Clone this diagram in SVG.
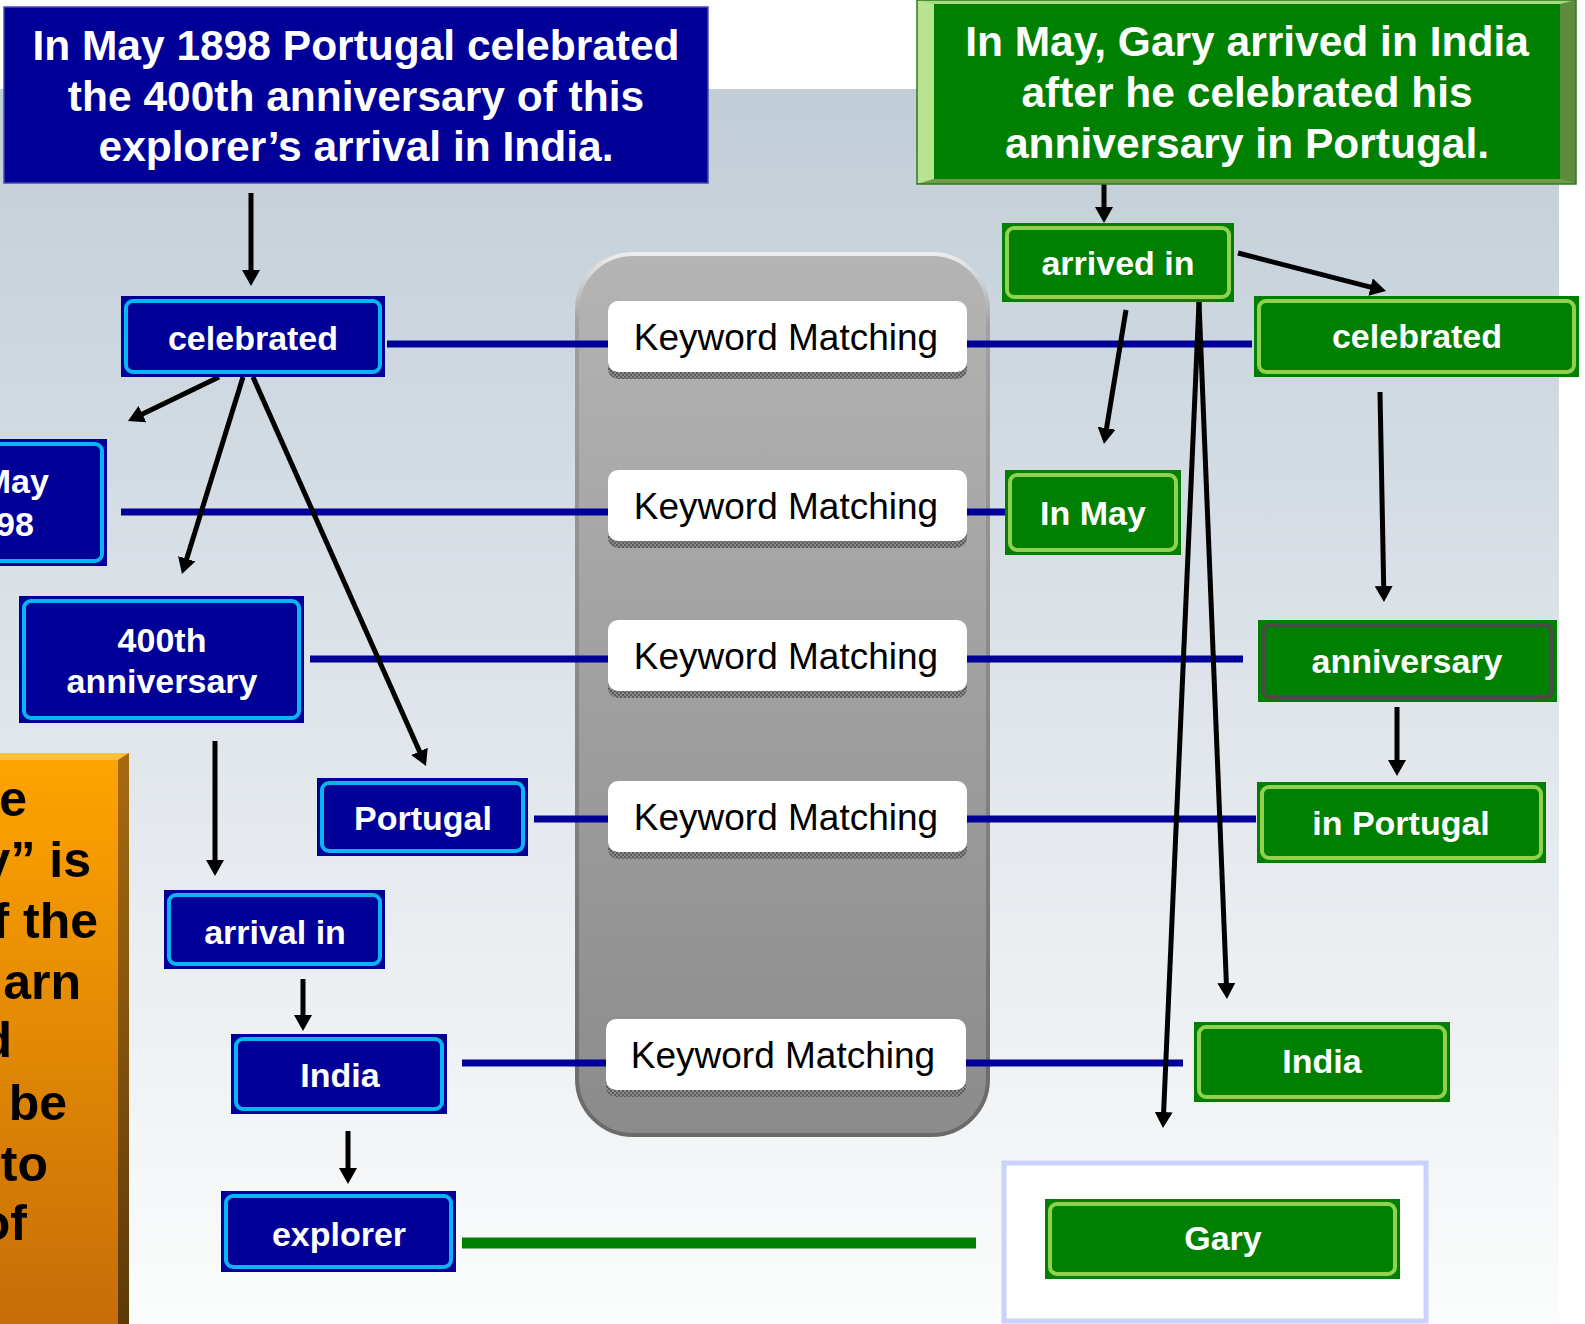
<svg xmlns="http://www.w3.org/2000/svg" width="1585" height="1324" viewBox="0 0 1585 1324">
<defs>
<linearGradient id="bg" x1="0" y1="0" x2="0" y2="1"><stop offset="0" stop-color="#c1cdd7"/><stop offset="0.55" stop-color="#e2e7ec"/><stop offset="1" stop-color="#fbfcfc"/></linearGradient>
<linearGradient id="cap" x1="0" y1="0" x2="0" y2="1"><stop offset="0" stop-color="#b4b4b4"/><stop offset="1" stop-color="#8b8b8b"/></linearGradient>
<linearGradient id="capS" x1="0" y1="0" x2="0" y2="1"><stop offset="0" stop-color="#ececec"/><stop offset="0.08" stop-color="#a0a0a0"/><stop offset="1" stop-color="#6a6a6a"/></linearGradient>
<linearGradient id="org" x1="0" y1="0" x2="0" y2="1"><stop offset="0" stop-color="#ffa400"/><stop offset="1" stop-color="#c66d08"/></linearGradient>
<linearGradient id="orgR" x1="0" y1="0" x2="0" y2="1"><stop offset="0" stop-color="#a86a10"/><stop offset="1" stop-color="#5c3a08"/></linearGradient>
<pattern id="stip" width="4" height="4" patternUnits="userSpaceOnUse"><rect width="4" height="4" fill="#8a8a8a"/><rect width="2" height="2" fill="#5c5c5c"/><rect x="2" y="2" width="2" height="2" fill="#5c5c5c"/></pattern>
<marker id="ah" viewBox="0 0 16 18" refX="1" refY="9" markerWidth="16" markerHeight="18" markerUnits="userSpaceOnUse" orient="auto"><path d="M0,0 L16,9 L0,18 z" fill="#000"/></marker>
<style>
.bn{fill:#000099}
.bi{fill:none;stroke:#0ab4f0;stroke-width:4}
.gn{fill:#008000}
.gi{fill:none;stroke:#92d050;stroke-width:4}
.t{font-family:"Liberation Sans",Arial,sans-serif;font-weight:bold;fill:#fff;text-anchor:middle}
.t34{font-size:34px}
.t42{font-size:42.5px}
.kw{font-family:"Liberation Sans",Arial,sans-serif;font-size:37px;fill:#000;text-anchor:middle}
.ot{font-family:"Liberation Sans",Arial,sans-serif;font-weight:bold;font-size:50px;fill:#000;text-anchor:end}
.bl{stroke:#000099;stroke-width:7;fill:none}
.ar{stroke:#000;stroke-width:5;fill:none;marker-end:url(#ah)}
.kb{fill:#fff}
.ks{fill:url(#stip)}
</style>
</defs>
<rect x="0" y="0" width="1585" height="1324" fill="#fff"/>
<rect x="0" y="89" width="1559" height="1235" fill="url(#bg)"/>

<g id="orange-note">
<rect x="0" y="753" width="129" height="571" fill="url(#org)"/>
<polygon points="0,753 129,753 118,760 0,760" fill="#ffc13a"/>
<polygon points="118,760 129,753 129,1324 118,1324" fill="url(#orgR)"/>
<text class="ot" x="27" y="816">e</text>
<text class="ot" x="91" y="877">y” is</text>
<text class="ot" x="98" y="938">f the</text>
<text class="ot" x="81" y="999">arn</text>
<text class="ot" x="12" y="1057">d</text>
<text class="ot" x="67" y="1120">be</text>
<text class="ot" x="48" y="1181">to</text>
<text class="ot" x="27" y="1240">of</text>
</g>

<g id="matcher">
<rect x="577" y="254" width="411" height="881" rx="56" fill="url(#cap)" stroke="url(#capS)" stroke-width="4"/>
</g>

<g id="connectors">
<line class="bl" x1="387" y1="344" x2="610" y2="344"/>
<line class="bl" x1="965" y1="344" x2="1252" y2="344"/>
<line class="bl" x1="121" y1="512" x2="610" y2="512"/>
<line class="bl" x1="965" y1="512" x2="1008" y2="512"/>
<line class="bl" x1="310" y1="659" x2="610" y2="659"/>
<line class="bl" x1="965" y1="659" x2="1243" y2="659"/>
<line class="bl" x1="534" y1="819" x2="610" y2="819"/>
<line class="bl" x1="965" y1="819" x2="1256" y2="819"/>
<line class="bl" x1="462" y1="1063" x2="608" y2="1063"/>
<line class="bl" x1="964" y1="1063" x2="1183" y2="1063"/>
<line x1="462" y1="1243" x2="976" y2="1243" stroke="#008000" stroke-width="11"/>
<line class="ar" x1="251" y1="193" x2="251" y2="271"/>
<line class="ar" x1="219" y1="377" x2="141.5" y2="414.5"/>
<line class="ar" x1="243" y1="377" x2="186.4" y2="559.7"/>
<line class="ar" x1="253" y1="377" x2="419.9" y2="752.3"/>
<line class="ar" x1="215" y1="741" x2="215" y2="861"/>
<line class="ar" x1="303" y1="979" x2="303" y2="1016"/>
<line class="ar" x1="348" y1="1131" x2="348" y2="1169"/>
<line class="ar" x1="1104" y1="184" x2="1104" y2="208"/>
<line class="ar" x1="1238" y1="253" x2="1371.5" y2="287.3"/>
<line class="ar" x1="1126" y1="310" x2="1106.4" y2="429.2"/>
<line class="ar" x1="1199" y1="302" x2="1226.4" y2="984"/>
<line class="ar" x1="1199" y1="302" x2="1163.6" y2="1113"/>
<line class="ar" x1="1380" y1="392" x2="1383.7" y2="587"/>
<line class="ar" x1="1397" y1="707" x2="1397" y2="761"/>
</g>

<g id="kw1"><rect class="ks" x="608" y="308" width="359" height="71" rx="10"/><rect class="kb" x="608" y="301" width="359" height="71" rx="10"/><text class="kw" x="786" y="350">Keyword Matching</text></g>
<g id="kw2"><rect class="ks" x="608" y="477" width="359" height="71" rx="10"/><rect class="kb" x="608" y="470" width="359" height="71" rx="10"/><text class="kw" x="786" y="519">Keyword Matching</text></g>
<g id="kw3"><rect class="ks" x="608" y="627" width="359" height="71" rx="10"/><rect class="kb" x="608" y="620" width="359" height="71" rx="10"/><text class="kw" x="786" y="669">Keyword Matching</text></g>
<g id="kw4"><rect class="ks" x="608" y="788" width="359" height="71" rx="10"/><rect class="kb" x="608" y="781" width="359" height="71" rx="10"/><text class="kw" x="786" y="830">Keyword Matching</text></g>
<g id="kw5"><rect class="ks" x="606" y="1026" width="360" height="71" rx="10"/><rect class="kb" x="606" y="1019" width="360" height="71" rx="10"/><text class="kw" x="783" y="1068">Keyword Matching</text></g>

<g id="question-blue">
<rect x="4" y="7" width="704" height="176" fill="#000099" stroke="#4848b0" stroke-width="1.5"/>
<text class="t t42" x="356" y="60">In May 1898 Portugal celebrated</text>
<text class="t t42" x="356" y="111">the 400th anniversary of this</text>
<text class="t t42" x="356" y="161">explorer’s arrival in India.</text>
</g>

<g id="question-green">
<rect x="917" y="0" width="659" height="184" fill="#8cc063"/>
<polygon points="917,0 1576,0 1560,4 934,4" fill="#a8d880"/>
<polygon points="917,0 934,4 934,179 917,184" fill="#b9e38f"/>
<polygon points="1576,0 1576,184 1560,179 1560,4" fill="#5e8a3e"/>
<polygon points="917,184 1576,184 1560,179 934,179" fill="#6e9c48"/>
<rect x="934" y="4" width="626" height="175" fill="#008000"/>
<rect x="917" y="0" width="659" height="184" fill="none" stroke="#2f7a1f" stroke-width="1.5"/>
<text class="t t42" x="1247" y="56">In May, Gary arrived in India</text>
<text class="t t42" x="1247" y="107">after he celebrated his</text>
<text class="t t42" x="1247" y="158">anniversary in Portugal.</text>
</g>

<g id="b-celebrated"><rect class="bn" x="121" y="296" width="264" height="81"/><rect class="bi" x="126" y="301" width="254" height="71" rx="7"/><text class="t t34" x="253" y="350">celebrated</text></g>
<g id="b-may"><rect class="bn" x="-115" y="439" width="222" height="127"/><rect class="bi" x="-110" y="444" width="212" height="117" rx="7"/><text class="t t34" x="-4" y="493">In May</text><text class="t t34" x="-4" y="536">1898</text></g>
<g id="b-400th"><rect class="bn" x="19" y="596" width="285" height="127"/><rect class="bi" x="24" y="601" width="275" height="117" rx="7"/><text class="t t34" x="162" y="652">400th</text><text class="t t34" x="162" y="693">anniversary</text></g>
<g id="b-portugal"><rect class="bn" x="317" y="778" width="211" height="78"/><rect class="bi" x="322" y="783" width="201" height="68" rx="7"/><text class="t t34" x="423" y="830">Portugal</text></g>
<g id="b-arrival"><rect class="bn" x="164" y="890" width="221" height="79"/><rect class="bi" x="169" y="895" width="211" height="69" rx="7"/><text class="t t34" x="275" y="944">arrival in</text></g>
<g id="b-india"><rect class="bn" x="231" y="1034" width="216" height="80"/><rect class="bi" x="236" y="1039" width="206" height="70" rx="7"/><text class="t t34" x="340" y="1087">India</text></g>
<g id="b-explorer"><rect class="bn" x="221" y="1191" width="235" height="81"/><rect class="bi" x="226" y="1196" width="225" height="71" rx="7"/><text class="t t34" x="339" y="1246">explorer</text></g>

<g id="g-arrived"><rect class="gn" x="1002" y="223" width="232" height="79"/><rect class="gi" x="1007" y="228" width="222" height="69" rx="7"/><text class="t t34" x="1118" y="275">arrived in</text></g>
<g id="g-celebrated"><rect class="gn" x="1254" y="296" width="325" height="81"/><rect class="gi" x="1259" y="301" width="315" height="71" rx="7"/><text class="t t34" x="1417" y="348">celebrated</text></g>
<g id="g-inmay"><rect class="gn" x="1005" y="470" width="176" height="85"/><rect class="gi" x="1010" y="475" width="166" height="75" rx="7"/><text class="t t34" x="1093" y="525">In May</text></g>
<g id="g-anniversary"><rect class="gn" x="1258" y="620" width="299" height="82"/><rect x="1263" y="625" width="289" height="72" rx="7" fill="none" stroke="#4a4a4a" stroke-width="4"/><text class="t t34" x="1407" y="673">anniversary</text></g>
<g id="g-inportugal"><rect class="gn" x="1257" y="782" width="289" height="81"/><rect class="gi" x="1262" y="787" width="279" height="71" rx="7"/><text class="t t34" x="1401" y="835">in Portugal</text></g>
<g id="g-india"><rect class="gn" x="1194" y="1022" width="256" height="80"/><rect class="gi" x="1199" y="1027" width="246" height="70" rx="7"/><text class="t t34" x="1322" y="1073">India</text></g>
<g id="g-gary-frame"><rect x="1004" y="1163" width="422" height="158" fill="#fff" stroke="#cbd2fb" stroke-width="5"/></g>
<g id="g-gary"><rect class="gn" x="1045" y="1199" width="355" height="80"/><rect class="gi" x="1050" y="1204" width="345" height="70" rx="7"/><text class="t t34" x="1223" y="1250">Gary</text></g>
</svg>
